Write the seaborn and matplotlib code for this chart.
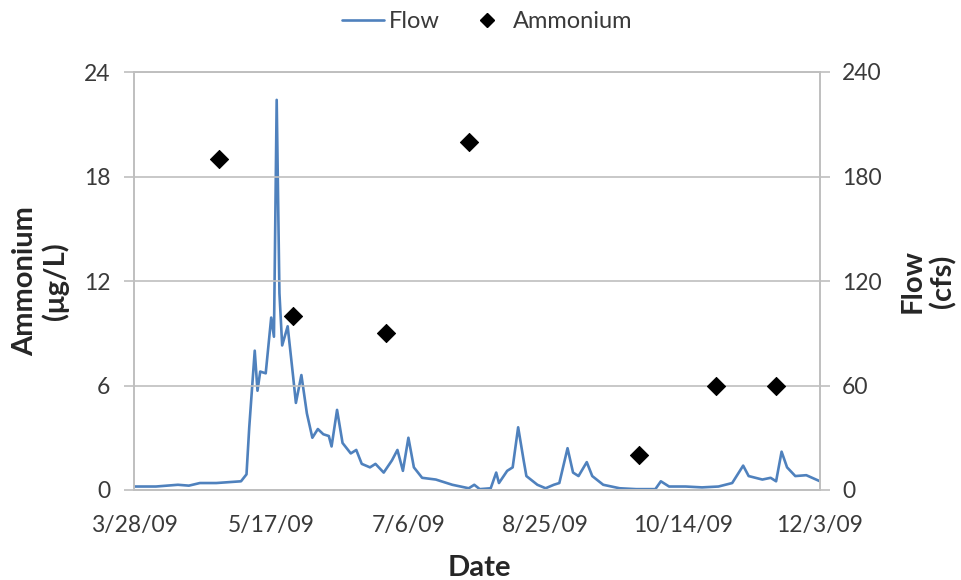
import matplotlib
matplotlib.use("Agg")
import matplotlib.pyplot as plt
import seaborn as sns
import pandas as pd
import numpy as np
from matplotlib.lines import Line2D

# ---- data ----
start_date = "2009-03-28"
flow_days = [0, 8, 16, 20, 24, 30, 39, 41, 42, 44, 45, 46, 48, 50, 51, 52, 53, 54,
             56, 58, 59, 61, 63, 65, 67, 69, 71, 72, 74, 76, 79, 81, 83, 86, 88,
             91, 94, 96, 98, 100, 102, 105, 110, 116, 122, 124, 126, 130, 132, 133,
             136, 138, 140, 142, 143, 147, 150, 153, 155, 158, 160, 162, 165, 167,
             171, 177, 183, 190, 192, 195, 201, 207, 213, 218, 222, 224, 229, 232,
             234, 236, 238, 241, 245, 250]
flow_cfs = [2, 2, 3, 2.5, 4, 4, 5, 9, 36, 80, 57, 68, 67, 99, 88, 224, 113, 83,
            94, 65, 50, 66, 44, 30, 35, 32, 31, 25, 46, 27, 21, 23, 15, 13, 15,
            10, 17, 23, 11, 30, 13, 7, 6, 3, 1, 3, 0.5, 1, 10, 4,
            11, 13, 36, 17, 8, 3, 1, 3, 4, 24, 10, 8, 16, 8,
            3, 1, 0.5, 0.5, 5, 2, 2, 1.5, 2, 4, 14, 8, 6, 7,
            5, 22, 13, 8, 8.5, 5]

ammonium_dates = ["2009-04-28", "2009-05-25", "2009-06-28", "2009-07-28",
                  "2009-09-28", "2009-10-26", "2009-11-17"]
ammonium_ugL = [19, 10, 9, 20, 2, 6, 6]

x_tick_labels = ["3/28/09", "5/17/09", "7/6/09", "8/25/09", "10/14/09", "12/3/09"]
left_ticks = [0, 6, 12, 18, 24]
right_ticks = [0, 60, 120, 180, 240]

flow_df = pd.DataFrame({
    "Date": pd.to_datetime(start_date) + pd.to_timedelta(flow_days, unit="D"),
    "Flow": flow_cfs,
})
amm_df = pd.DataFrame({"Date": pd.to_datetime(ammonium_dates), "Ammonium": ammonium_ugL})

# ---- style ----
sns.set_style("white")
plt.rcParams["font.family"] = ["Lato", "DejaVu Sans"]

fig = plt.figure(figsize=(9.62, 5.8), dpi=100)
ax = fig.add_axes([134/962, 1-490/580, (820-134)/962, (490-72)/580])
ax2 = ax.twinx()

blue = "#4F81BD"
grid_c = "#BFBFBF"
txt_c = "#3A3A3A"
lab_c = "#262626"

sns.lineplot(data=flow_df, x="Date", y="Flow", ax=ax2, color=blue, linewidth=1.9)
sns.scatterplot(data=amm_df, x="Date", y="Ammonium", ax=ax, marker="D", s=85,
                color="black", edgecolor="black", zorder=5)

ax.set_zorder(ax2.get_zorder() + 1)
ax.patch.set_visible(False)

xt = pd.to_datetime(x_tick_labels, format="%m/%d/%y")
ax.set_xlim(xt[0], xt[-1])
ax.set_xticks(xt)
ax.set_xticklabels(x_tick_labels)
ax.set_ylim(0, 24)
ax.set_yticks(left_ticks)
ax2.set_ylim(0, 240)
ax2.set_yticks(right_ticks)

for a in (ax, ax2):
    for s in a.spines.values():
        s.set_color(grid_c)
        s.set_linewidth(1.2)
    a.tick_params(axis="both", colors=grid_c, labelcolor=txt_c, labelsize=16.5,
                  length=7, width=1.2, direction="out")
ax.tick_params(axis="x", pad=11)
ax.tick_params(axis="y", pad=10)
ax2.tick_params(axis="y", pad=9)
ax.grid(axis="y", color=grid_c, linewidth=1.2)
ax2.grid(False)

ax.set_xlabel("")
ax.set_ylabel("")
ax2.set_ylabel("")
fig.text(479/962, 1-568/580, "Date", fontsize=21, fontweight="bold", color=lab_c,
         ha="center", va="center")
fig.text(41/962, 1-281/580, "Ammonium\n(μg/L)", fontsize=21, fontweight="bold",
         color=lab_c, rotation=90, ha="center", va="center", multialignment="center",
         linespacing=1.15)
fig.text(928/962, 1-281/580, "Flow\n(cfs)", fontsize=21, fontweight="bold",
         color=lab_c, rotation=90, ha="center", va="center", multialignment="center",
         linespacing=1.15)

handles = [Line2D([0], [0], color=blue, linewidth=1.9),
           Line2D([0], [0], marker="D", color="black", linestyle="none", markersize=7)]
leg = fig.legend(handles, ["Flow", "Ammonium"], loc="center", bbox_to_anchor=(487/962, 1-22/580),
                 ncol=2, frameon=False, fontsize=17, handlelength=1.8, handletextpad=0.2,
                 columnspacing=1.1, borderpad=0, borderaxespad=0)
for t in leg.get_texts():
    t.set_color(txt_c)

fig.savefig("out.png", dpi=100)
